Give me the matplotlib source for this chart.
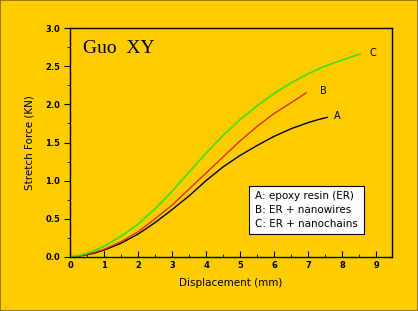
import matplotlib
matplotlib.use("Agg")
import matplotlib.pyplot as plt
import numpy as np
from matplotlib.ticker import MultipleLocator

# Data
xA = [0, 0.25, 0.5, 0.75, 1, 1.5, 2, 2.5, 3, 3.5, 4, 4.5, 5, 5.5, 6, 6.5, 7, 7.3, 7.57]
yA = [0, 0.012, 0.03, 0.055, 0.09, 0.18, 0.30, 0.45, 0.62, 0.80, 1.00, 1.18, 1.33, 1.46, 1.58, 1.68, 1.76, 1.80, 1.83]
xB = [0, 0.25, 0.5, 0.75, 1, 1.5, 2, 2.5, 3, 3.5, 4, 4.5, 5, 5.5, 6, 6.5, 6.94]
yB = [0, 0.013, 0.035, 0.065, 0.10, 0.20, 0.33, 0.50, 0.68, 0.89, 1.10, 1.31, 1.52, 1.71, 1.88, 2.02, 2.15]
xC = [0, 0.25, 0.5, 0.75, 1, 1.5, 2, 2.5, 3, 3.5, 4, 4.5, 5, 5.5, 6, 6.5, 7, 7.5, 8, 8.53]
yC = [0, 0.02, 0.05, 0.09, 0.14, 0.27, 0.43, 0.63, 0.86, 1.11, 1.36, 1.59, 1.80, 1.98, 2.14, 2.28, 2.40, 2.50, 2.58, 2.66]
curve_labels = ["A", "B", "C"]
legend_lines = ["A: epoxy resin (ER)", "B: ER + nanowires", "C: ER + nanochains"]

bg = "#FFCC00"
fig = plt.figure(figsize=(4.18, 3.11), dpi=100, facecolor=bg)
ax = fig.add_axes([70/418, 1-257/311, (392-70)/418, (257-28)/311])
ax.set_facecolor(bg)

ax.plot(xA, yA, color="black", lw=1.0)
ax.plot(xB, yB, color="#E03010", lw=1.0)
ax.plot(xC, yC, color="#40E010", lw=1.2)

ax.text(7.75, 1.85, curve_labels[0], fontsize=7, va="center")
ax.text(7.35, 2.18, curve_labels[1], fontsize=7, va="center")
ax.text(8.8, 2.67, curve_labels[2], fontsize=7, va="center")

ax.xaxis.set_major_locator(MultipleLocator(1))
ax.xaxis.set_minor_locator(MultipleLocator(0.5))
ax.yaxis.set_minor_locator(MultipleLocator(0.25))
ax.tick_params(axis="x", which="both", direction="in", labelsize=6, pad=3)
ax.tick_params(axis="x", which="major", length=4)
ax.tick_params(axis="x", which="minor", length=2)
ax.tick_params(axis="y", which="both", direction="out", labelsize=6, pad=3)
ax.tick_params(axis="y", which="major", length=4)
ax.tick_params(axis="y", which="minor", length=2)
xt = np.arange(0, 10)
ax.set_xticks(xt)
ax.set_xticklabels([f"{v}" for v in xt], fontweight="bold")
yt = np.arange(0, 3.01, 0.5)
ax.set_yticks(yt)
ax.set_yticklabels([f"{v:.1f}" for v in yt], fontweight="bold")
ax.set_xlim(0, 9.47)
ax.set_ylim(0, 3.0)
for s in ax.spines.values():
    s.set_linewidth(1.0)

ax.set_xlabel("Displacement (mm)", fontsize=7.5, labelpad=6)
ax.set_ylabel("Stretch Force (KN)", fontsize=7.5, labelpad=8)

ax.text(0.04, 0.91, "Guo  XY", transform=ax.transAxes, fontsize=14,
        family="Liberation Serif", va="center")

ax.text(0.575, 0.205, "\n".join(legend_lines), transform=ax.transAxes,
        fontsize=7.5, va="center", ha="left", linespacing=1.45,
        bbox=dict(boxstyle="square,pad=0.55", facecolor="white", edgecolor="black", lw=0.8))

fig.patches.append(plt.Rectangle((0, 0), 1, 1, transform=fig.transFigure,
                                 fill=False, edgecolor="#8a6a00", lw=1.2))
fig.savefig("out.png", dpi=100, facecolor=bg)
